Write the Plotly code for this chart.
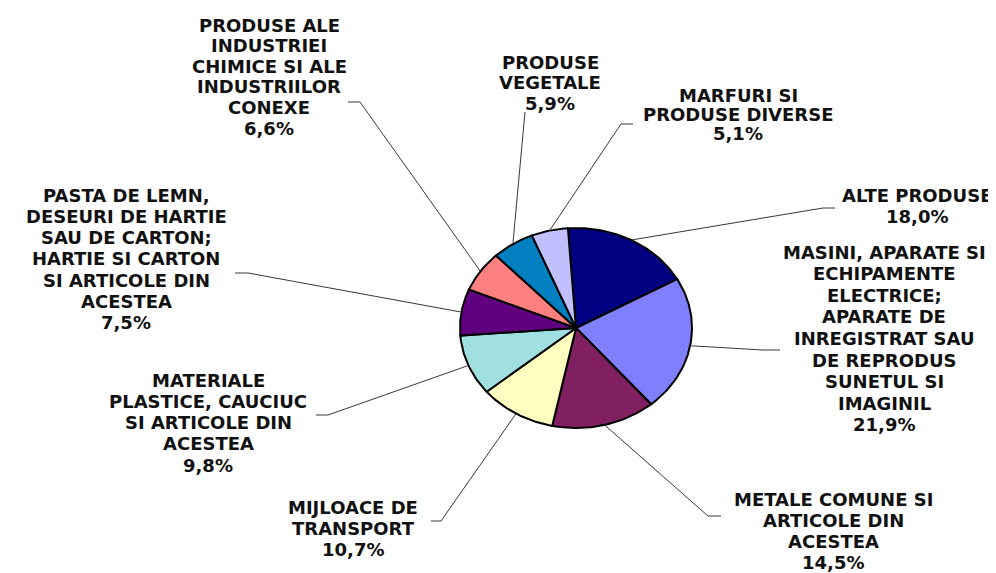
import math
import plotly.graph_objects as go

# ---- data (clockwise from the top) ----
categories = [
    "ALTE PRODUSE",
    "MASINI, APARATE SI<br>ECHIPAMENTE<br>ELECTRICE;<br>APARATE DE<br>INREGISTRAT SAU<br>DE REPRODUS<br>SUNETUL SI<br>IMAGINIL",
    "METALE COMUNE SI<br>ARTICOLE DIN<br>ACESTEA",
    "MIJLOACE DE<br>TRANSPORT",
    "MATERIALE<br>PLASTICE, CAUCIUC<br>SI ARTICOLE DIN<br>ACESTEA",
    "PASTA DE LEMN,<br>DESEURI DE HARTIE<br>SAU DE CARTON;<br>HARTIE SI CARTON<br>SI ARTICOLE DIN<br>ACESTEA",
    "PRODUSE ALE<br>INDUSTRIEI<br>CHIMICE SI ALE<br>INDUSTRIILOR<br>CONEXE",
    "PRODUSE<br>VEGETALE",
    "MARFURI SI<br>PRODUSE DIVERSE",
]
values = [18.0, 21.9, 14.5, 10.7, 9.8, 7.5, 6.6, 5.9, 5.1]
colors = ["#000080", "#8080FF", "#802060", "#FFFFC0", "#A0E0E0",
          "#600080", "#FF8080", "#0080C0", "#C0C0FF"]

# ---- layout (pixel-like coordinates) ----
W, H = 996, 573
CX, CY, RX, RY = 568, 320, 116, 100
START = 94.0  # degrees, slices run clockwise
Y_SHIFT = -8  # box-middle vs cap-middle correction

# label: centre x and centre y of first text line; line gap per label
label_pos = [(909, 195), (876, 252), (825, 499), (345, 507), (200, 380),
             (118, 195), (261, 25), (542, 62), (730, 95)]
label_gap = [21.4, 21.6, 21.0, 21.4, 21.3, 21.3, 20.6, 20.6, 19.2]
leader_pts = [[(827, 200), (815, 200)], [(772, 342), (755, 342)],
              [(713, 508), (700, 508)], [(423, 513), (433, 513)],
              [(308, 407), (320, 407)], [(227, 265), (240, 265)],
              [(340, 94), (352, 94)], [(517, 104)], [(625, 116), (613, 116)]]


def ell(theta_deg):
    t = math.radians(theta_deg)
    return CX + RX * math.cos(t), CY - RY * math.sin(t)


fig = go.Figure()
total = sum(values)
a0 = START
mids = []
for v, c in zip(values, colors):
    span = v / total * 360.0
    a1 = a0 - span
    n = max(int(span), 2)
    xs, ys = [CX], [CY]
    for i in range(n + 1):
        x, y = ell(a0 - span * i / n)
        xs.append(x)
        ys.append(y)
    xs.append(CX)
    ys.append(CY)
    fig.add_trace(go.Scatter(x=xs, y=ys, mode="lines", fill="toself",
                             fillcolor=c, line=dict(color="black", width=2),
                             hoverinfo="skip", showlegend=False))
    mids.append((a0 + a1) / 2)
    a0 = a1

font = dict(family="DejaVu Sans", size=18, color="#111111", weight="bold")
for cat, v, (lx, ly), gap, pts, m in zip(categories, values, label_pos,
                                         label_gap, leader_pts, mids):
    ex, ey = ell(m)
    lxs = [p[0] for p in pts] + [ex]
    lys = [p[1] for p in pts] + [ey]
    fig.add_trace(go.Scatter(x=lxs, y=lys, mode="lines",
                             line=dict(color="#383838", width=1),
                             hoverinfo="skip", showlegend=False))
    pct = f"{v:.1f}".replace(".", ",") + "%"
    lines = cat.split("<br>") + [pct]
    for k, t in enumerate(lines):
        fig.add_annotation(x=lx, y=ly + Y_SHIFT + k * gap, xref="x", yref="y",
                           text=t, showarrow=False, xanchor="center",
                           yanchor="middle", font=font, borderpad=0)

fig.update_xaxes(range=[0, W], visible=False, fixedrange=True)
fig.update_yaxes(range=[H, 0], visible=False, fixedrange=True)
fig.update_layout(width=W, height=H, margin=dict(l=0, r=0, t=0, b=0),
                  paper_bgcolor="white", plot_bgcolor="white")
fig.write_html("out.html")
